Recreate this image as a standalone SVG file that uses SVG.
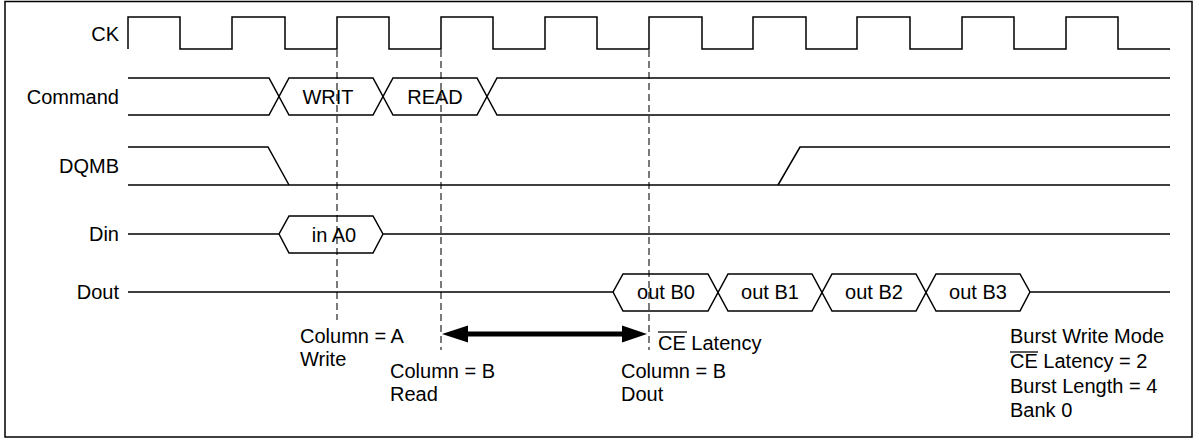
<svg xmlns="http://www.w3.org/2000/svg" width="1199" height="440" viewBox="0 0 1199 440">
<style>
  .sig{fill:none;stroke:#000;stroke-width:1.5;stroke-linejoin:miter}
  .dash{fill:none;stroke:#222;stroke-width:1.2;stroke-dasharray:7 4}
  text{font-family:"Liberation Sans",Arial,sans-serif;font-size:20px;fill:#000}
  .lbl{text-anchor:end}
  .mid{text-anchor:middle}
  .ov{stroke:#000;stroke-width:1.3}
</style>
<rect x="5" y="1.5" width="1187" height="435.5" fill="#fff" stroke="#000" stroke-width="1.5"/>
<g id="guides">
  <line class="dash" x1="337" y1="50" x2="337" y2="320"/>
  <line class="dash" x1="441" y1="50" x2="441" y2="350"/>
  <line class="dash" x1="649" y1="50" x2="649" y2="350"/>
</g>
<g id="CK">
  <text class="lbl" x="119" y="41">CK</text>
  <path class="sig" d="M128,49 V17 H180 V49 H232 V17 H285 V49 H337 V17 H389 V49 H441 V17 H493 V49 H545 V17 H597 V49 H649 V17 H702 V49 H753 V17 H806 V49 H857 V17 H910 V49 H962 V17 H1014 V49 H1066 V17 H1118 V49 H1170"/>
</g>
<g id="Command">
  <text class="lbl" x="119" y="104">Command</text>
  <polyline class="sig" points="128,78 269,78 289,115 373,115 393,78 477,78 497,115 1170,115"/>
  <polyline class="sig" points="128,115 269,115 289,78 373,78 393,115 477,115 497,78 1170,78"/>
  <text class="mid" x="328" y="104">WRIT</text>
  <text class="mid" x="435" y="104">READ</text>
</g>
<g id="DQMB">
  <text class="lbl" x="119" y="173">DQMB</text>
  <polyline class="sig" points="128,147 268,147 289,185"/>
  <polyline class="sig" points="128,185 1170,185"/>
  <polyline class="sig" points="778,185 800,147 1170,147"/>
</g>
<g id="Din">
  <text class="lbl" x="119" y="241">Din</text>
  <polyline class="sig" points="128,234 279,234 289,216 373,216 383,234 1170,234"/>
  <polyline class="sig" points="279,234 289,253 373,253 383,234"/>
  <text class="mid" x="334" y="242">in A0</text>
</g>
<g id="Dout">
  <text class="lbl" x="119" y="299">Dout</text>
  <polyline class="sig" points="128,292 613,292 623,274 708,274 728,311 812,311 832,274 916,274 936,311 1020,311 1030,292 1170,292"/>
  <polyline class="sig" points="613,292 623,311 708,311 728,274 812,274 832,311 916,311 936,274 1020,274 1030,292"/>
  <text class="mid" x="666" y="299">out B0</text>
  <text class="mid" x="770" y="299">out B1</text>
  <text class="mid" x="874" y="299">out B2</text>
  <text class="mid" x="978" y="299">out B3</text>
</g>
<g id="connectors">
  <line x1="466" y1="334" x2="624" y2="334" stroke="#000" stroke-width="5"/>
  <polygon points="442,334 468,325.5 468,342.5" fill="#000"/>
  <polygon points="647,334 622,325.5 622,342.5" fill="#000"/>
</g>
<g id="annotations">
  <text x="300" y="343">Column = A</text>
  <text x="300" y="366">Write</text>
  <text x="390" y="378">Column = B</text>
  <text x="390" y="401">Read</text>
  <text x="658" y="350">CE Latency</text>
  <line class="ov" x1="658" y1="332" x2="687" y2="332"/>
  <text x="621" y="378">Column = B</text>
  <text x="621" y="401">Dout</text>
</g>
<g id="legend">
  <text x="1010" y="343">Burst Write Mode</text>
  <text x="1010" y="368">CE Latency = 2</text>
  <line class="ov" x1="1010" y1="352" x2="1038" y2="352"/>
  <text x="1010" y="393">Burst Length = 4</text>
  <text x="1010" y="417">Bank 0</text>
</g>
</svg>
